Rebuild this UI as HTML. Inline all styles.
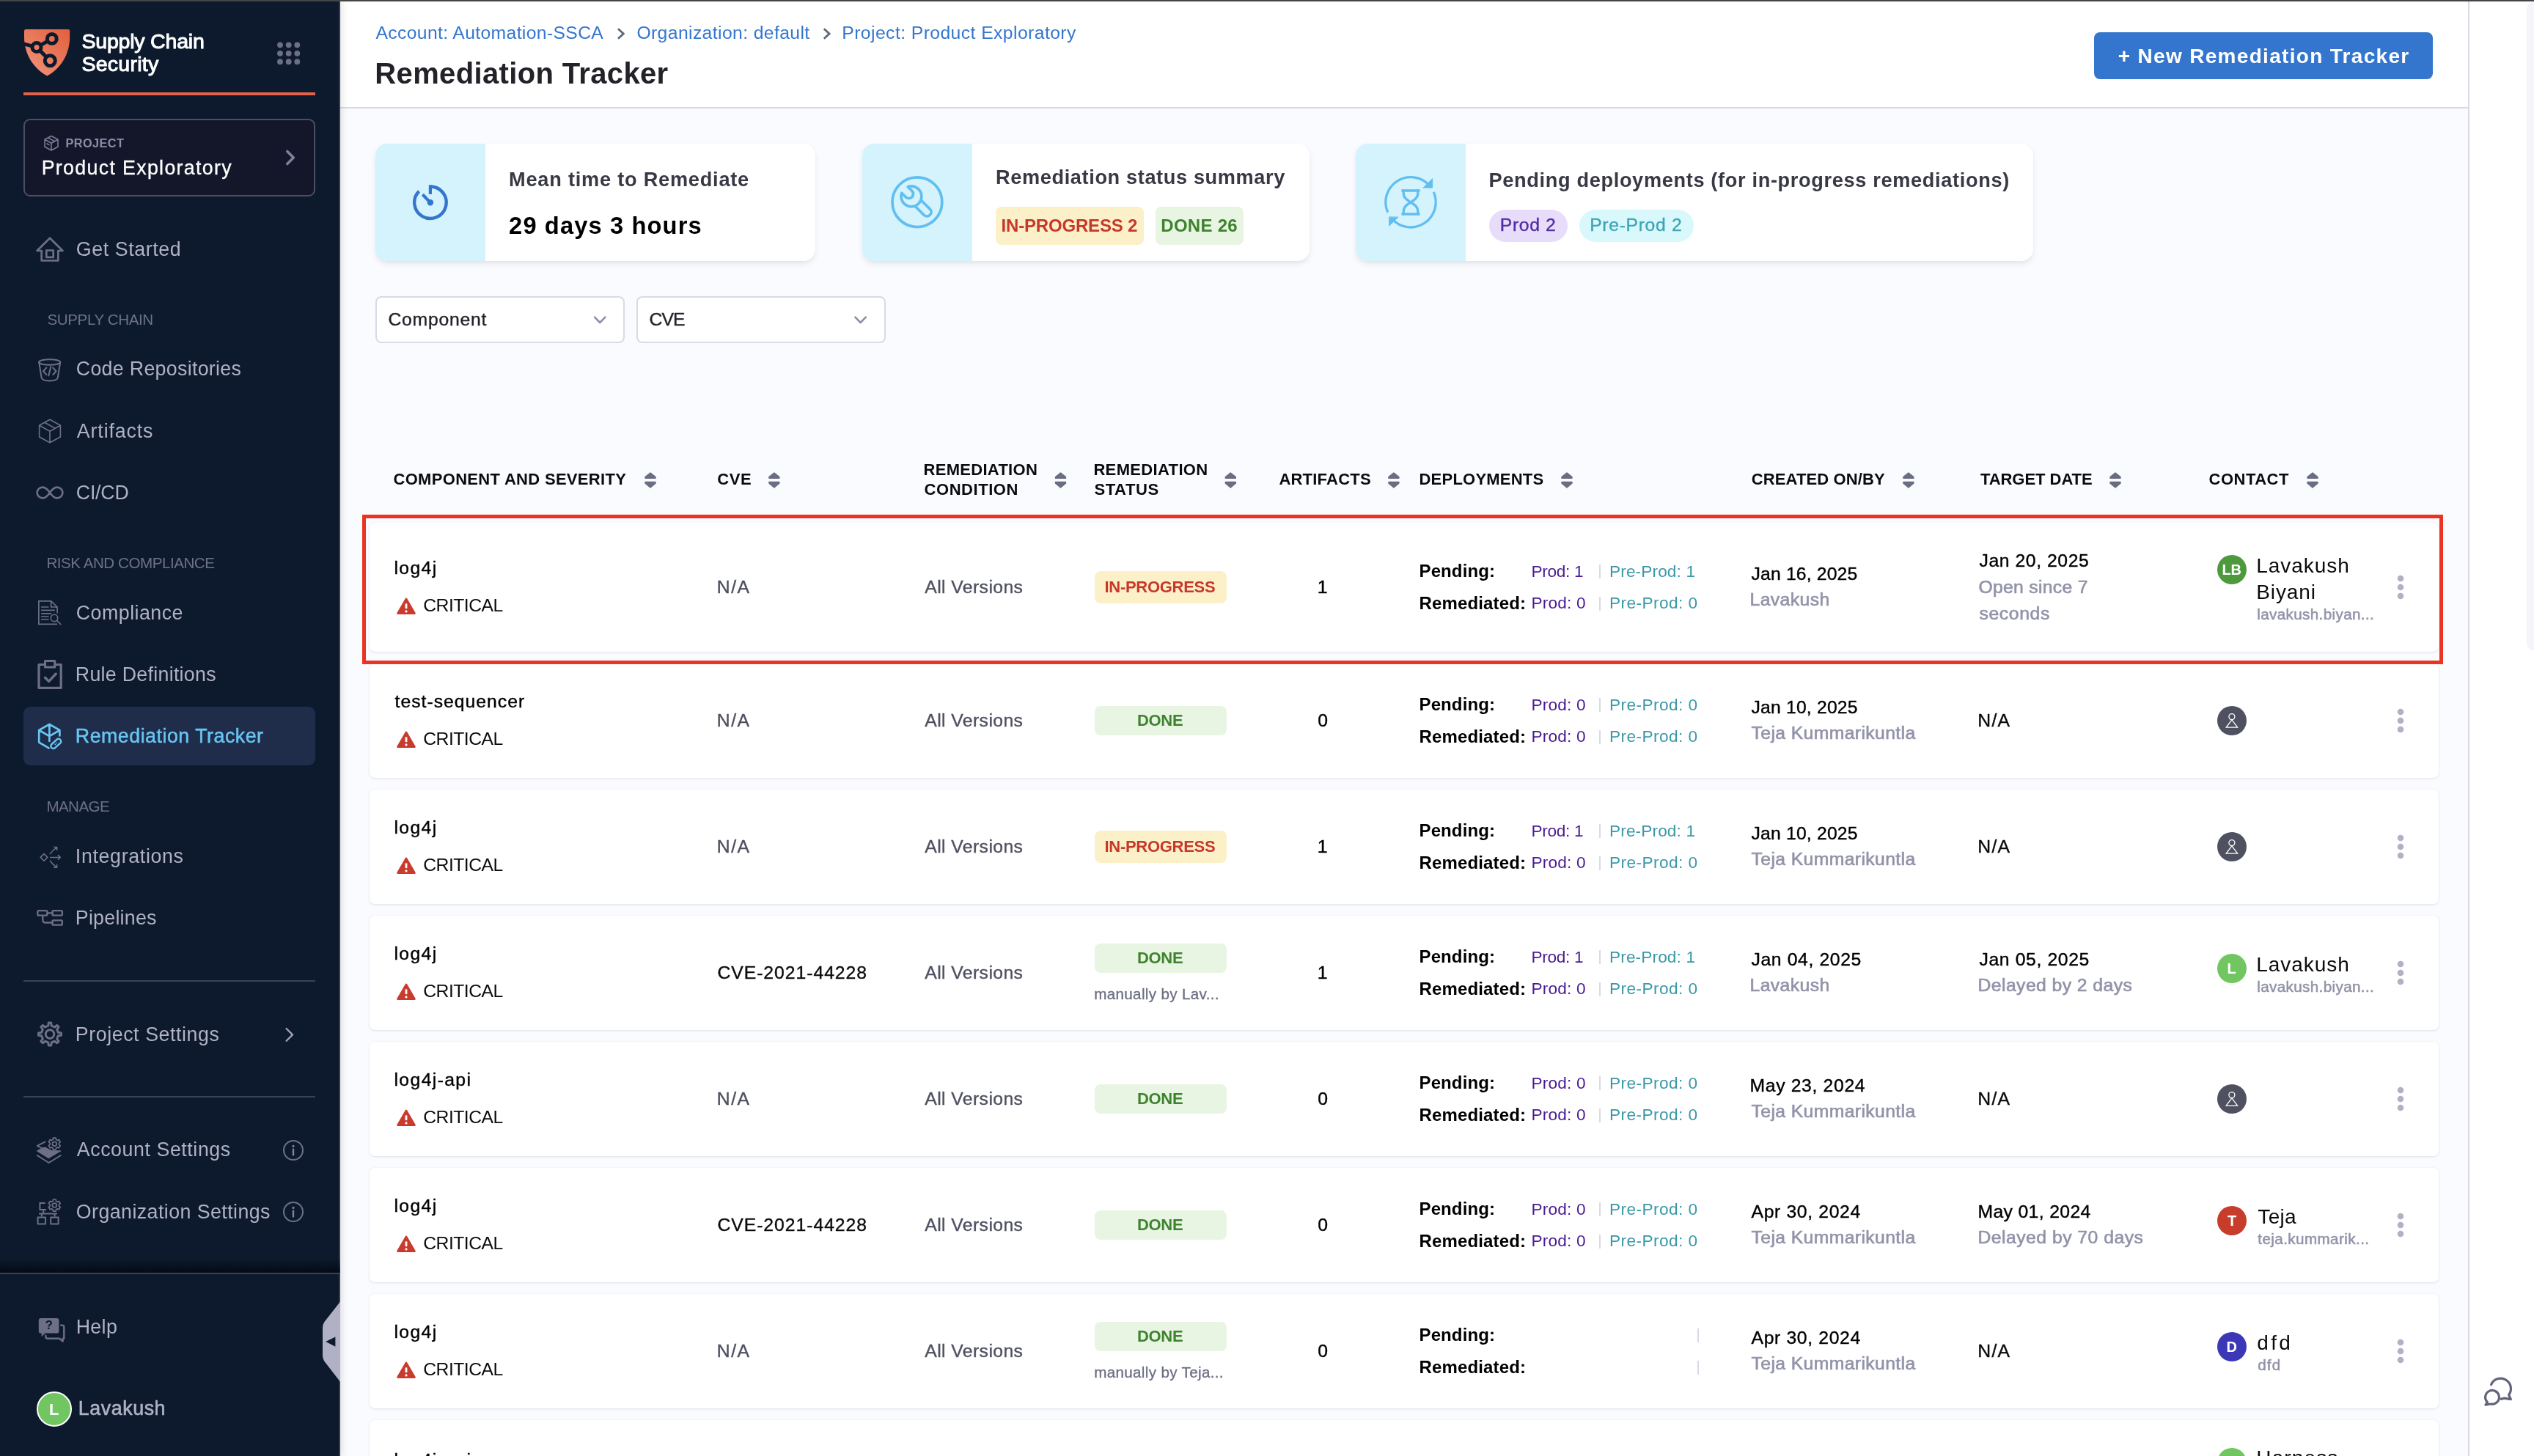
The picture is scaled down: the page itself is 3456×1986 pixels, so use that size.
<!DOCTYPE html>
<html lang="en"><head><meta charset="utf-8"><title>Remediation Tracker</title>
<style>
html,body{margin:0;padding:0;}
body{width:3456px;height:1986px;position:relative;overflow:hidden;background:#fafbfe;font-family:"Liberation Sans", sans-serif;}
#root{position:absolute;left:0;top:0;width:3456px;height:1986px;overflow:hidden;will-change:transform;}
#root div,#root svg,#root span{position:absolute;box-sizing:border-box;}
#root svg{overflow:visible;}
.t{white-space:nowrap;font-family:"Liberation Sans", sans-serif;font-kerning:normal;}
@media (max-width:1800px){body{width:1728px;height:993px;}#root{zoom:0.5;}}
</style></head><body><div id="root">
<div style="left:464px;top:0px;width:2904px;height:148px;background:#fff;border-bottom:2px solid #d9dae4;"></div>
<div style="left:3368px;top:0px;width:88px;height:1986px;background:#fff;"></div>
<div style="left:3366px;top:0px;width:2px;height:1986px;background:#d9dae4;"></div>
<div style="left:3446px;top:3px;width:20px;height:884px;background:#f4f4fa;border-radius:9px;"></div>
<div style="left:512px;top:196px;width:600px;height:160px;background:#fff;border-radius:16px;overflow:hidden;box-shadow:0 4px 8px -2px rgba(96,97,112,0.20),0 0 2px rgba(40,41,61,0.04);"><div style="left:0;top:0;width:150px;height:160px;background:#d5f3fd;"></div></div>
<div style="left:1176px;top:196px;width:610px;height:160px;background:#fff;border-radius:16px;overflow:hidden;box-shadow:0 4px 8px -2px rgba(96,97,112,0.20),0 0 2px rgba(40,41,61,0.04);"><div style="left:0;top:0;width:150px;height:160px;background:#d5f3fd;"></div></div>
<div style="left:1849px;top:196px;width:924px;height:160px;background:#fff;border-radius:16px;overflow:hidden;box-shadow:0 4px 8px -2px rgba(96,97,112,0.20),0 0 2px rgba(40,41,61,0.04);"><div style="left:0;top:0;width:150px;height:160px;background:#d5f3fd;"></div></div>
<div style="left:512px;top:404px;width:340px;height:64px;background:#fff;border:2px solid #d9dae4;border-radius:8px;"></div>
<div style="left:868px;top:404px;width:340px;height:64px;background:#fff;border:2px solid #d9dae4;border-radius:8px;"></div>
<div style="left:504px;top:713px;width:2822px;height:176px;background:#fff;border-radius:7px;box-shadow:0 1px 3px rgba(96,97,112,0.15),0 0 1.5px rgba(40,41,61,0.07);"></div>
<div style="left:504px;top:905px;width:2822px;height:156px;background:#fff;border-radius:7px;box-shadow:0 1px 3px rgba(96,97,112,0.15),0 0 1.5px rgba(40,41,61,0.07);"></div>
<div style="left:504px;top:1077px;width:2822px;height:156px;background:#fff;border-radius:7px;box-shadow:0 1px 3px rgba(96,97,112,0.15),0 0 1.5px rgba(40,41,61,0.07);"></div>
<div style="left:504px;top:1249px;width:2822px;height:156px;background:#fff;border-radius:7px;box-shadow:0 1px 3px rgba(96,97,112,0.15),0 0 1.5px rgba(40,41,61,0.07);"></div>
<div style="left:504px;top:1421px;width:2822px;height:156px;background:#fff;border-radius:7px;box-shadow:0 1px 3px rgba(96,97,112,0.15),0 0 1.5px rgba(40,41,61,0.07);"></div>
<div style="left:504px;top:1593px;width:2822px;height:156px;background:#fff;border-radius:7px;box-shadow:0 1px 3px rgba(96,97,112,0.15),0 0 1.5px rgba(40,41,61,0.07);"></div>
<div style="left:504px;top:1765px;width:2822px;height:156px;background:#fff;border-radius:7px;box-shadow:0 1px 3px rgba(96,97,112,0.15),0 0 1.5px rgba(40,41,61,0.07);"></div>
<div style="left:504px;top:1937px;width:2822px;height:176px;background:#fff;border-radius:7px;box-shadow:0 1px 3px rgba(96,97,112,0.15),0 0 1.5px rgba(40,41,61,0.07);"></div>
<div style="left:0px;top:0px;width:464px;height:1986px;background:#0d1a2e;border-right:2px solid #34364b;box-shadow:2px 0 9px rgba(20,25,45,0.13);"></div>
<div style="left:2856px;top:44px;width:462px;height:64px;background:#3476ce;border-radius:8px;"></div>
<div style="left:1358px;top:282px;width:202px;height:52px;background:#fcf0c9;border-radius:8px;"></div>
<div style="left:1576px;top:282px;width:120px;height:52px;background:#e7f5e2;border-radius:8px;"></div>
<div style="left:2031px;top:286px;width:107px;height:44px;background:#e7ddfa;border-radius:22px;"></div>
<div style="left:2154px;top:286px;width:156px;height:44px;background:#d9f8fb;border-radius:22px;"></div>
<div style="left:1493px;top:779.0px;width:180px;height:44px;background:#fcf0c9;border-radius:8px;"></div>
<div style="left:2181px;top:770.25px;width:2px;height:19px;background:#d9dae4;"></div>
<div style="left:2181px;top:813.75px;width:2px;height:19px;background:#d9dae4;"></div>
<div style="left:3024px;top:757.0px;width:40px;height:40px;background:#4e993d;border-radius:50%;"></div>
<div style="left:1493px;top:963.0px;width:180px;height:40px;background:#e7f5e2;border-radius:8px;"></div>
<div style="left:2181px;top:952.25px;width:2px;height:19px;background:#d9dae4;"></div>
<div style="left:2181px;top:995.75px;width:2px;height:19px;background:#d9dae4;"></div>
<div style="left:1493px;top:1133.0px;width:180px;height:44px;background:#fcf0c9;border-radius:8px;"></div>
<div style="left:2181px;top:1124.25px;width:2px;height:19px;background:#d9dae4;"></div>
<div style="left:2181px;top:1167.75px;width:2px;height:19px;background:#d9dae4;"></div>
<div style="left:1493px;top:1287.0px;width:180px;height:40px;background:#e7f5e2;border-radius:8px;"></div>
<div style="left:2181px;top:1296.25px;width:2px;height:19px;background:#d9dae4;"></div>
<div style="left:2181px;top:1339.75px;width:2px;height:19px;background:#d9dae4;"></div>
<div style="left:3024px;top:1301.0px;width:40px;height:40px;background:#71c661;border-radius:50%;"></div>
<div style="left:1493px;top:1479.0px;width:180px;height:40px;background:#e7f5e2;border-radius:8px;"></div>
<div style="left:2181px;top:1468.25px;width:2px;height:19px;background:#d9dae4;"></div>
<div style="left:2181px;top:1511.75px;width:2px;height:19px;background:#d9dae4;"></div>
<div style="left:1493px;top:1651.0px;width:180px;height:40px;background:#e7f5e2;border-radius:8px;"></div>
<div style="left:2181px;top:1640.25px;width:2px;height:19px;background:#d9dae4;"></div>
<div style="left:2181px;top:1683.75px;width:2px;height:19px;background:#d9dae4;"></div>
<div style="left:3024px;top:1645.0px;width:40px;height:40px;background:#c83c2c;border-radius:50%;"></div>
<div style="left:1493px;top:1803.0px;width:180px;height:40px;background:#e7f5e2;border-radius:8px;"></div>
<div style="left:2314.5px;top:1812.25px;width:2px;height:19px;background:#d9dae4;"></div>
<div style="left:2314.5px;top:1855.75px;width:2px;height:19px;background:#d9dae4;"></div>
<div style="left:3024px;top:1817.0px;width:40px;height:40px;background:#3b37b6;border-radius:50%;"></div>
<div style="left:3024px;top:1975px;width:40px;height:40px;background:#71c661;border-radius:50%;"></div>
<div style="left:32px;top:126px;width:398px;height:4px;background:#e5624a;"></div>
<div style="left:32px;top:162px;width:398px;height:106px;background:#14172a;border:2px solid #4b4e66;border-radius:9px;"></div>
<div style="left:32px;top:964px;width:398px;height:80px;background:#1f2c4a;border-radius:9px;"></div>
<div style="left:32px;top:1337px;width:398px;height:2px;background:#3b3f55;"></div>
<div style="left:32px;top:1495px;width:398px;height:2px;background:#3b3f55;"></div>
<div style="left:0px;top:1716px;width:464px;height:20px;background:linear-gradient(to bottom,rgba(3,5,12,0) 0%,rgba(3,5,12,0.75) 100%);"></div>
<div style="left:0px;top:1736px;width:464px;height:2px;background:#3d4157;"></div>
<div style="left:50px;top:1898px;width:48px;height:48px;background:#71c661;border:2.5px solid #fff;border-radius:50%;"></div>
<span class="t" style="left:111.50px;top:38.50px;font-size:28.56px;line-height:34px;font-weight:400;color:#fff;letter-spacing:-0.230px;-webkit-text-stroke:1.0px #fff;">Supply Chain</span>
<span class="t" style="left:111.50px;top:70.20px;font-size:28.56px;line-height:34px;font-weight:400;color:#fff;letter-spacing:0.222px;-webkit-text-stroke:1.0px #fff;">Security</span>
<span class="t" style="left:89.40px;top:185.35px;font-size:16.32px;line-height:20px;font-weight:700;color:#8c8ea8;letter-spacing:0.420px;">PROJECT</span>
<span class="t" style="left:56.70px;top:212.72px;font-size:26.78px;line-height:32px;font-weight:400;color:#fff;letter-spacing:1.330px;-webkit-text-stroke:0.3px #fff;">Product Exploratory</span>
<span class="t" style="left:103.80px;top:323.52px;font-size:26.78px;line-height:32px;font-weight:400;color:#b0b1c4;letter-spacing:0.601px;">Get Started</span>
<span class="t" style="left:103.80px;top:487.42px;font-size:26.78px;line-height:32px;font-weight:400;color:#b0b1c4;letter-spacing:0.306px;">Code Repositories</span>
<span class="t" style="left:104.80px;top:571.52px;font-size:26.78px;line-height:32px;font-weight:400;color:#b0b1c4;letter-spacing:0.876px;">Artifacts</span>
<span class="t" style="left:103.80px;top:655.52px;font-size:26.78px;line-height:32px;font-weight:400;color:#b0b1c4;letter-spacing:-0.233px;">CI/CD</span>
<span class="t" style="left:103.80px;top:819.52px;font-size:26.78px;line-height:32px;font-weight:400;color:#b0b1c4;letter-spacing:0.484px;">Compliance</span>
<span class="t" style="left:102.80px;top:903.52px;font-size:26.78px;line-height:32px;font-weight:400;color:#b0b1c4;letter-spacing:0.289px;">Rule Definitions</span>
<span class="t" style="left:102.80px;top:987.72px;font-size:26.78px;line-height:32px;font-weight:400;color:#68c4f1;letter-spacing:0.516px;-webkit-text-stroke:0.5px #68c4f1;">Remediation Tracker</span>
<span class="t" style="left:102.80px;top:1152.12px;font-size:26.78px;line-height:32px;font-weight:400;color:#b0b1c4;letter-spacing:0.665px;">Integrations</span>
<span class="t" style="left:102.80px;top:1236.32px;font-size:26.78px;line-height:32px;font-weight:400;color:#b0b1c4;letter-spacing:0.258px;">Pipelines</span>
<span class="t" style="left:102.80px;top:1394.72px;font-size:26.78px;line-height:32px;font-weight:400;color:#b0b1c4;letter-spacing:0.575px;">Project Settings</span>
<span class="t" style="left:104.80px;top:1552.42px;font-size:26.78px;line-height:32px;font-weight:400;color:#b0b1c4;letter-spacing:0.568px;">Account Settings</span>
<span class="t" style="left:103.80px;top:1636.62px;font-size:26.78px;line-height:32px;font-weight:400;color:#b0b1c4;letter-spacing:0.439px;">Organization Settings</span>
<span class="t" style="left:103.70px;top:1793.82px;font-size:26.78px;line-height:32px;font-weight:400;color:#b0b1c4;letter-spacing:0.346px;">Help</span>
<span class="t" style="left:106.80px;top:1905.12px;font-size:26.78px;line-height:32px;font-weight:400;color:#b0b1c4;letter-spacing:0.587px;-webkit-text-stroke:0.6px #b0b1c4;">Lavakush</span>
<span class="t" style="left:64.40px;top:423.36px;font-size:20.6px;line-height:25px;font-weight:400;color:#6d7089;letter-spacing:-0.397px;">SUPPLY CHAIN</span>
<span class="t" style="left:63.40px;top:755.36px;font-size:20.6px;line-height:25px;font-weight:400;color:#6d7089;letter-spacing:-0.468px;">RISK AND COMPLIANCE</span>
<span class="t" style="left:63.40px;top:1087.36px;font-size:20.6px;line-height:25px;font-weight:400;color:#6d7089;letter-spacing:-0.583px;">MANAGE</span>
<span class="t" style="left:512.50px;top:30.23px;font-size:24.72px;line-height:30px;font-weight:400;color:#3476ce;letter-spacing:0.350px;">Account: Automation-SSCA</span>
<span class="t" style="left:868.40px;top:30.23px;font-size:24.72px;line-height:30px;font-weight:400;color:#3476ce;letter-spacing:0.383px;">Organization: default</span>
<span class="t" style="left:1148.30px;top:30.23px;font-size:24.72px;line-height:30px;font-weight:400;color:#3476ce;letter-spacing:0.419px;">Project: Product Exploratory</span>
<span class="t" style="left:511.30px;top:76.34px;font-size:40.0px;line-height:48px;font-weight:700;color:#222229;letter-spacing:0.354px;">Remediation Tracker</span>
<span class="t" style="left:2888.80px;top:59.70px;font-size:28.0px;line-height:34px;font-weight:700;color:#fff;letter-spacing:1.311px;">+ New Remediation Tracker</span>
<span class="t" style="left:694.10px;top:228.19px;font-size:27.17px;line-height:33px;font-weight:700;color:#383945;letter-spacing:0.773px;">Mean time to Remediate</span>
<span class="t" style="left:694.10px;top:288.19px;font-size:32.64px;line-height:39px;font-weight:700;color:#000;letter-spacing:1.138px;">29 days 3 hours</span>
<span class="t" style="left:1358.00px;top:225.39px;font-size:27.17px;line-height:33px;font-weight:700;color:#383945;letter-spacing:0.624px;">Remediation status summary</span>
<span class="t" style="left:1365.60px;top:293.18px;font-size:24.0px;line-height:29px;font-weight:700;color:#c5382a;letter-spacing:-0.191px;">IN-PROGRESS 2</span>
<span class="t" style="left:1583.30px;top:293.18px;font-size:24.0px;line-height:29px;font-weight:700;color:#3f822f;letter-spacing:0.274px;">DONE 26</span>
<span class="t" style="left:2030.50px;top:229.49px;font-size:27.17px;line-height:33px;font-weight:700;color:#383945;letter-spacing:0.658px;">Pending deployments (for in-progress remediations)</span>
<span class="t" style="left:2045.80px;top:292.33px;font-size:24.72px;line-height:30px;font-weight:400;color:#532da4;letter-spacing:0.624px;-webkit-text-stroke:0.4px #532da4;">Prod 2</span>
<span class="t" style="left:2168.20px;top:292.33px;font-size:24.72px;line-height:30px;font-weight:400;color:#3fa5b5;letter-spacing:0.669px;-webkit-text-stroke:0.4px #3fa5b5;">Pre-Prod 2</span>
<span class="t" style="left:529.50px;top:420.93px;font-size:24.72px;line-height:30px;font-weight:400;color:#222229;letter-spacing:0.759px;-webkit-text-stroke:0.4px #222229;">Component</span>
<span class="t" style="left:885.50px;top:420.93px;font-size:24.72px;line-height:30px;font-weight:400;color:#222229;letter-spacing:-0.969px;-webkit-text-stroke:0.4px #222229;">CVE</span>
<span class="t" style="left:536.50px;top:641.48px;font-size:22.0px;line-height:26px;font-weight:700;color:#0b0b0d;letter-spacing:0.309px;">COMPONENT AND SEVERITY</span>
<span class="t" style="left:978.30px;top:641.48px;font-size:22.0px;line-height:26px;font-weight:700;color:#0b0b0d;letter-spacing:0.519px;">CVE</span>
<span class="t" style="left:1259.60px;top:628.28px;font-size:22.0px;line-height:26px;font-weight:700;color:#0b0b0d;letter-spacing:0.282px;">REMEDIATION</span>
<span class="t" style="left:1260.60px;top:654.98px;font-size:22.0px;line-height:26px;font-weight:700;color:#0b0b0d;letter-spacing:0.544px;">CONDITION</span>
<span class="t" style="left:1491.40px;top:628.28px;font-size:22.0px;line-height:26px;font-weight:700;color:#0b0b0d;letter-spacing:0.342px;">REMEDIATION</span>
<span class="t" style="left:1492.40px;top:654.98px;font-size:22.0px;line-height:26px;font-weight:700;color:#0b0b0d;letter-spacing:0.588px;">STATUS</span>
<span class="t" style="left:1744.40px;top:641.48px;font-size:22.0px;line-height:26px;font-weight:700;color:#0b0b0d;letter-spacing:0.217px;">ARTIFACTS</span>
<span class="t" style="left:1935.50px;top:641.48px;font-size:22.0px;line-height:26px;font-weight:700;color:#0b0b0d;letter-spacing:0.221px;">DEPLOYMENTS</span>
<span class="t" style="left:2388.80px;top:641.48px;font-size:22.0px;line-height:26px;font-weight:700;color:#0b0b0d;letter-spacing:0.107px;">CREATED ON/BY</span>
<span class="t" style="left:2700.90px;top:641.48px;font-size:22.0px;line-height:26px;font-weight:700;color:#0b0b0d;letter-spacing:-0.040px;">TARGET DATE</span>
<span class="t" style="left:3012.50px;top:641.48px;font-size:22.0px;line-height:26px;font-weight:700;color:#0b0b0d;letter-spacing:0.505px;">CONTACT</span>
<span class="t" style="left:537.50px;top:759.83px;font-size:24.72px;line-height:30px;font-weight:400;color:#000;letter-spacing:1.367px;-webkit-text-stroke:0.4px #000;">log4j</span>
<span class="t" style="left:577.30px;top:811.43px;font-size:24.72px;line-height:30px;font-weight:400;color:#0b0b0d;letter-spacing:-0.525px;">CRITICAL</span>
<span class="t" style="left:977.80px;top:786.13px;font-size:24.72px;line-height:30px;font-weight:400;color:#4f5161;letter-spacing:1.541px;-webkit-text-stroke:0.4px #4f5161;">N/A</span>
<span class="t" style="left:1261.30px;top:786.13px;font-size:24.72px;line-height:30px;font-weight:400;color:#4f5161;letter-spacing:0.410px;-webkit-text-stroke:0.4px #4f5161;">All Versions</span>
<span class="t" style="left:1506.50px;top:788.38px;font-size:22.0px;line-height:26px;font-weight:700;color:#c5382a;letter-spacing:-0.285px;">IN-PROGRESS</span>
<span class="t" style="left:1796.70px;top:785.93px;font-size:24.72px;line-height:30px;font-weight:400;color:#000;-webkit-text-stroke:0.4px #000;">1</span>
<span class="t" style="left:1935.50px;top:764.43px;font-size:24.0px;line-height:29px;font-weight:700;color:#000;letter-spacing:0.119px;">Pending:</span>
<span class="t" style="left:1935.50px;top:807.93px;font-size:24.0px;line-height:29px;font-weight:700;color:#000;letter-spacing:0.146px;">Remediated:</span>
<span class="t" style="left:2088.50px;top:765.90px;font-size:22.66px;line-height:27px;font-weight:400;color:#4a1a93;letter-spacing:-0.324px;">Prod: 1</span>
<span class="t" style="left:2195.00px;top:765.90px;font-size:22.66px;line-height:27px;font-weight:400;color:#3b98a8;letter-spacing:0.115px;">Pre-Prod: 1</span>
<span class="t" style="left:2088.50px;top:809.40px;font-size:22.66px;line-height:27px;font-weight:400;color:#4a1a93;letter-spacing:0.176px;">Prod: 0</span>
<span class="t" style="left:2195.00px;top:809.40px;font-size:22.66px;line-height:27px;font-weight:400;color:#3b98a8;letter-spacing:0.415px;">Pre-Prod: 0</span>
<span class="t" style="left:2388.50px;top:767.58px;font-size:24.72px;line-height:30px;font-weight:400;color:#000;letter-spacing:0.164px;-webkit-text-stroke:0.4px #000;">Jan 16, 2025</span>
<span class="t" style="left:2386.50px;top:803.28px;font-size:24.72px;line-height:30px;font-weight:400;color:#9293a9;letter-spacing:0.419px;-webkit-text-stroke:0.65px #9293a9;">Lavakush</span>
<span class="t" style="left:2699.50px;top:750.08px;font-size:24.72px;line-height:30px;font-weight:400;color:#000;letter-spacing:0.573px;-webkit-text-stroke:0.4px #000;">Jan 20, 2025</span>
<span class="t" style="left:2698.50px;top:785.88px;font-size:24.72px;line-height:30px;font-weight:400;color:#9293a9;letter-spacing:0.299px;-webkit-text-stroke:0.65px #9293a9;">Open since 7</span>
<span class="t" style="left:2699.50px;top:821.68px;font-size:24.72px;line-height:30px;font-weight:400;color:#9293a9;letter-spacing:0.632px;-webkit-text-stroke:0.65px #9293a9;">seconds</span>
<span class="t" style="left:3077.30px;top:754.50px;font-size:28.0px;line-height:34px;font-weight:400;color:#0b0b0d;letter-spacing:0.959px;">Lavakush</span>
<span class="t" style="left:3077.30px;top:790.50px;font-size:28.0px;line-height:34px;font-weight:400;color:#0b0b0d;letter-spacing:0.872px;">Biyani</span>
<span class="t" style="left:3078.30px;top:824.76px;font-size:20.6px;line-height:25px;font-weight:400;color:#9293a9;letter-spacing:0.377px;-webkit-text-stroke:0.55px #9293a9;">lavakush.biyan...</span>
<span class="t" style="left:538.50px;top:941.83px;font-size:24.72px;line-height:30px;font-weight:400;color:#000;letter-spacing:1.017px;-webkit-text-stroke:0.4px #000;">test-sequencer</span>
<span class="t" style="left:577.30px;top:993.43px;font-size:24.72px;line-height:30px;font-weight:400;color:#0b0b0d;letter-spacing:-0.525px;">CRITICAL</span>
<span class="t" style="left:977.80px;top:968.13px;font-size:24.72px;line-height:30px;font-weight:400;color:#4f5161;letter-spacing:1.541px;-webkit-text-stroke:0.4px #4f5161;">N/A</span>
<span class="t" style="left:1261.30px;top:968.13px;font-size:24.72px;line-height:30px;font-weight:400;color:#4f5161;letter-spacing:0.410px;-webkit-text-stroke:0.4px #4f5161;">All Versions</span>
<span class="t" style="left:1550.90px;top:970.18px;font-size:22.0px;line-height:26px;font-weight:700;color:#3f822f;letter-spacing:-0.296px;">DONE</span>
<span class="t" style="left:1797.20px;top:967.93px;font-size:24.72px;line-height:30px;font-weight:400;color:#000;-webkit-text-stroke:0.4px #000;">0</span>
<span class="t" style="left:1935.50px;top:946.43px;font-size:24.0px;line-height:29px;font-weight:700;color:#000;letter-spacing:0.119px;">Pending:</span>
<span class="t" style="left:1935.50px;top:989.93px;font-size:24.0px;line-height:29px;font-weight:700;color:#000;letter-spacing:0.146px;">Remediated:</span>
<span class="t" style="left:2088.50px;top:947.90px;font-size:22.66px;line-height:27px;font-weight:400;color:#4a1a93;letter-spacing:0.176px;">Prod: 0</span>
<span class="t" style="left:2195.00px;top:947.90px;font-size:22.66px;line-height:27px;font-weight:400;color:#3b98a8;letter-spacing:0.415px;">Pre-Prod: 0</span>
<span class="t" style="left:2088.50px;top:991.40px;font-size:22.66px;line-height:27px;font-weight:400;color:#4a1a93;letter-spacing:0.176px;">Prod: 0</span>
<span class="t" style="left:2195.00px;top:991.40px;font-size:22.66px;line-height:27px;font-weight:400;color:#3b98a8;letter-spacing:0.415px;">Pre-Prod: 0</span>
<span class="t" style="left:2388.50px;top:949.58px;font-size:24.72px;line-height:30px;font-weight:400;color:#000;letter-spacing:0.191px;-webkit-text-stroke:0.4px #000;">Jan 10, 2025</span>
<span class="t" style="left:2388.50px;top:985.28px;font-size:24.72px;line-height:30px;font-weight:400;color:#9293a9;letter-spacing:0.393px;-webkit-text-stroke:0.65px #9293a9;">Teja Kummarikuntla</span>
<span class="t" style="left:2697.20px;top:967.93px;font-size:24.72px;line-height:30px;font-weight:400;color:#0b0b0d;letter-spacing:1.341px;-webkit-text-stroke:0.4px #0b0b0d;">N/A</span>
<span class="t" style="left:537.50px;top:1113.83px;font-size:24.72px;line-height:30px;font-weight:400;color:#000;letter-spacing:1.367px;-webkit-text-stroke:0.4px #000;">log4j</span>
<span class="t" style="left:577.30px;top:1165.43px;font-size:24.72px;line-height:30px;font-weight:400;color:#0b0b0d;letter-spacing:-0.525px;">CRITICAL</span>
<span class="t" style="left:977.80px;top:1140.13px;font-size:24.72px;line-height:30px;font-weight:400;color:#4f5161;letter-spacing:1.541px;-webkit-text-stroke:0.4px #4f5161;">N/A</span>
<span class="t" style="left:1261.30px;top:1140.13px;font-size:24.72px;line-height:30px;font-weight:400;color:#4f5161;letter-spacing:0.410px;-webkit-text-stroke:0.4px #4f5161;">All Versions</span>
<span class="t" style="left:1506.50px;top:1142.38px;font-size:22.0px;line-height:26px;font-weight:700;color:#c5382a;letter-spacing:-0.285px;">IN-PROGRESS</span>
<span class="t" style="left:1796.70px;top:1139.93px;font-size:24.72px;line-height:30px;font-weight:400;color:#000;-webkit-text-stroke:0.4px #000;">1</span>
<span class="t" style="left:1935.50px;top:1118.43px;font-size:24.0px;line-height:29px;font-weight:700;color:#000;letter-spacing:0.119px;">Pending:</span>
<span class="t" style="left:1935.50px;top:1161.93px;font-size:24.0px;line-height:29px;font-weight:700;color:#000;letter-spacing:0.146px;">Remediated:</span>
<span class="t" style="left:2088.50px;top:1119.90px;font-size:22.66px;line-height:27px;font-weight:400;color:#4a1a93;letter-spacing:-0.324px;">Prod: 1</span>
<span class="t" style="left:2195.00px;top:1119.90px;font-size:22.66px;line-height:27px;font-weight:400;color:#3b98a8;letter-spacing:0.115px;">Pre-Prod: 1</span>
<span class="t" style="left:2088.50px;top:1163.40px;font-size:22.66px;line-height:27px;font-weight:400;color:#4a1a93;letter-spacing:0.176px;">Prod: 0</span>
<span class="t" style="left:2195.00px;top:1163.40px;font-size:22.66px;line-height:27px;font-weight:400;color:#3b98a8;letter-spacing:0.415px;">Pre-Prod: 0</span>
<span class="t" style="left:2388.50px;top:1121.58px;font-size:24.72px;line-height:30px;font-weight:400;color:#000;letter-spacing:0.191px;-webkit-text-stroke:0.4px #000;">Jan 10, 2025</span>
<span class="t" style="left:2388.50px;top:1157.28px;font-size:24.72px;line-height:30px;font-weight:400;color:#9293a9;letter-spacing:0.393px;-webkit-text-stroke:0.65px #9293a9;">Teja Kummarikuntla</span>
<span class="t" style="left:2697.20px;top:1139.93px;font-size:24.72px;line-height:30px;font-weight:400;color:#0b0b0d;letter-spacing:1.341px;-webkit-text-stroke:0.4px #0b0b0d;">N/A</span>
<span class="t" style="left:537.50px;top:1285.83px;font-size:24.72px;line-height:30px;font-weight:400;color:#000;letter-spacing:1.367px;-webkit-text-stroke:0.4px #000;">log4j</span>
<span class="t" style="left:577.30px;top:1337.43px;font-size:24.72px;line-height:30px;font-weight:400;color:#0b0b0d;letter-spacing:-0.525px;">CRITICAL</span>
<span class="t" style="left:978.40px;top:1312.13px;font-size:24.72px;line-height:30px;font-weight:400;color:#0b0b0d;letter-spacing:0.972px;-webkit-text-stroke:0.4px #0b0b0d;">CVE-2021-44228</span>
<span class="t" style="left:1261.30px;top:1312.13px;font-size:24.72px;line-height:30px;font-weight:400;color:#4f5161;letter-spacing:0.410px;-webkit-text-stroke:0.4px #4f5161;">All Versions</span>
<span class="t" style="left:1550.90px;top:1294.18px;font-size:22.0px;line-height:26px;font-weight:700;color:#3f822f;letter-spacing:-0.296px;">DONE</span>
<span class="t" style="left:1492.20px;top:1342.66px;font-size:20.6px;line-height:25px;font-weight:400;color:#6b6d83;letter-spacing:0.346px;-webkit-text-stroke:0.3px #6b6d83;">manually by Lav...</span>
<span class="t" style="left:1796.70px;top:1311.93px;font-size:24.72px;line-height:30px;font-weight:400;color:#000;-webkit-text-stroke:0.4px #000;">1</span>
<span class="t" style="left:1935.50px;top:1290.43px;font-size:24.0px;line-height:29px;font-weight:700;color:#000;letter-spacing:0.119px;">Pending:</span>
<span class="t" style="left:1935.50px;top:1333.93px;font-size:24.0px;line-height:29px;font-weight:700;color:#000;letter-spacing:0.146px;">Remediated:</span>
<span class="t" style="left:2088.50px;top:1291.90px;font-size:22.66px;line-height:27px;font-weight:400;color:#4a1a93;letter-spacing:-0.324px;">Prod: 1</span>
<span class="t" style="left:2195.00px;top:1291.90px;font-size:22.66px;line-height:27px;font-weight:400;color:#3b98a8;letter-spacing:0.115px;">Pre-Prod: 1</span>
<span class="t" style="left:2088.50px;top:1335.40px;font-size:22.66px;line-height:27px;font-weight:400;color:#4a1a93;letter-spacing:0.176px;">Prod: 0</span>
<span class="t" style="left:2195.00px;top:1335.40px;font-size:22.66px;line-height:27px;font-weight:400;color:#3b98a8;letter-spacing:0.415px;">Pre-Prod: 0</span>
<span class="t" style="left:2388.50px;top:1293.58px;font-size:24.72px;line-height:30px;font-weight:400;color:#000;letter-spacing:0.619px;-webkit-text-stroke:0.4px #000;">Jan 04, 2025</span>
<span class="t" style="left:2386.50px;top:1329.28px;font-size:24.72px;line-height:30px;font-weight:400;color:#9293a9;letter-spacing:0.419px;-webkit-text-stroke:0.65px #9293a9;">Lavakush</span>
<span class="t" style="left:2699.50px;top:1293.58px;font-size:24.72px;line-height:30px;font-weight:400;color:#000;letter-spacing:0.619px;-webkit-text-stroke:0.4px #000;">Jan 05, 2025</span>
<span class="t" style="left:2697.50px;top:1329.38px;font-size:24.72px;line-height:30px;font-weight:400;color:#9293a9;letter-spacing:0.437px;-webkit-text-stroke:0.65px #9293a9;">Delayed by 2 days</span>
<span class="t" style="left:3077.30px;top:1298.50px;font-size:28.0px;line-height:34px;font-weight:400;color:#0b0b0d;letter-spacing:0.959px;">Lavakush</span>
<span class="t" style="left:3078.30px;top:1332.76px;font-size:20.6px;line-height:25px;font-weight:400;color:#9293a9;letter-spacing:0.377px;-webkit-text-stroke:0.55px #9293a9;">lavakush.biyan...</span>
<span class="t" style="left:537.50px;top:1457.83px;font-size:24.72px;line-height:30px;font-weight:400;color:#000;letter-spacing:1.381px;-webkit-text-stroke:0.4px #000;">log4j-api</span>
<span class="t" style="left:577.30px;top:1509.43px;font-size:24.72px;line-height:30px;font-weight:400;color:#0b0b0d;letter-spacing:-0.525px;">CRITICAL</span>
<span class="t" style="left:977.80px;top:1484.13px;font-size:24.72px;line-height:30px;font-weight:400;color:#4f5161;letter-spacing:1.541px;-webkit-text-stroke:0.4px #4f5161;">N/A</span>
<span class="t" style="left:1261.30px;top:1484.13px;font-size:24.72px;line-height:30px;font-weight:400;color:#4f5161;letter-spacing:0.410px;-webkit-text-stroke:0.4px #4f5161;">All Versions</span>
<span class="t" style="left:1550.90px;top:1486.18px;font-size:22.0px;line-height:26px;font-weight:700;color:#3f822f;letter-spacing:-0.296px;">DONE</span>
<span class="t" style="left:1797.20px;top:1483.93px;font-size:24.72px;line-height:30px;font-weight:400;color:#000;-webkit-text-stroke:0.4px #000;">0</span>
<span class="t" style="left:1935.50px;top:1462.43px;font-size:24.0px;line-height:29px;font-weight:700;color:#000;letter-spacing:0.119px;">Pending:</span>
<span class="t" style="left:1935.50px;top:1505.93px;font-size:24.0px;line-height:29px;font-weight:700;color:#000;letter-spacing:0.146px;">Remediated:</span>
<span class="t" style="left:2088.50px;top:1463.90px;font-size:22.66px;line-height:27px;font-weight:400;color:#4a1a93;letter-spacing:0.176px;">Prod: 0</span>
<span class="t" style="left:2195.00px;top:1463.90px;font-size:22.66px;line-height:27px;font-weight:400;color:#3b98a8;letter-spacing:0.415px;">Pre-Prod: 0</span>
<span class="t" style="left:2088.50px;top:1507.40px;font-size:22.66px;line-height:27px;font-weight:400;color:#4a1a93;letter-spacing:0.176px;">Prod: 0</span>
<span class="t" style="left:2195.00px;top:1507.40px;font-size:22.66px;line-height:27px;font-weight:400;color:#3b98a8;letter-spacing:0.415px;">Pre-Prod: 0</span>
<span class="t" style="left:2386.50px;top:1465.58px;font-size:24.72px;line-height:30px;font-weight:400;color:#000;letter-spacing:0.660px;-webkit-text-stroke:0.4px #000;">May 23, 2024</span>
<span class="t" style="left:2388.50px;top:1501.28px;font-size:24.72px;line-height:30px;font-weight:400;color:#9293a9;letter-spacing:0.393px;-webkit-text-stroke:0.65px #9293a9;">Teja Kummarikuntla</span>
<span class="t" style="left:2697.20px;top:1483.93px;font-size:24.72px;line-height:30px;font-weight:400;color:#0b0b0d;letter-spacing:1.341px;-webkit-text-stroke:0.4px #0b0b0d;">N/A</span>
<span class="t" style="left:537.50px;top:1629.83px;font-size:24.72px;line-height:30px;font-weight:400;color:#000;letter-spacing:1.367px;-webkit-text-stroke:0.4px #000;">log4j</span>
<span class="t" style="left:577.30px;top:1681.43px;font-size:24.72px;line-height:30px;font-weight:400;color:#0b0b0d;letter-spacing:-0.525px;">CRITICAL</span>
<span class="t" style="left:978.40px;top:1656.13px;font-size:24.72px;line-height:30px;font-weight:400;color:#0b0b0d;letter-spacing:0.972px;-webkit-text-stroke:0.4px #0b0b0d;">CVE-2021-44228</span>
<span class="t" style="left:1261.30px;top:1656.13px;font-size:24.72px;line-height:30px;font-weight:400;color:#4f5161;letter-spacing:0.410px;-webkit-text-stroke:0.4px #4f5161;">All Versions</span>
<span class="t" style="left:1550.90px;top:1658.18px;font-size:22.0px;line-height:26px;font-weight:700;color:#3f822f;letter-spacing:-0.296px;">DONE</span>
<span class="t" style="left:1797.20px;top:1655.93px;font-size:24.72px;line-height:30px;font-weight:400;color:#000;-webkit-text-stroke:0.4px #000;">0</span>
<span class="t" style="left:1935.50px;top:1634.43px;font-size:24.0px;line-height:29px;font-weight:700;color:#000;letter-spacing:0.119px;">Pending:</span>
<span class="t" style="left:1935.50px;top:1677.93px;font-size:24.0px;line-height:29px;font-weight:700;color:#000;letter-spacing:0.146px;">Remediated:</span>
<span class="t" style="left:2088.50px;top:1635.90px;font-size:22.66px;line-height:27px;font-weight:400;color:#4a1a93;letter-spacing:0.176px;">Prod: 0</span>
<span class="t" style="left:2195.00px;top:1635.90px;font-size:22.66px;line-height:27px;font-weight:400;color:#3b98a8;letter-spacing:0.415px;">Pre-Prod: 0</span>
<span class="t" style="left:2088.50px;top:1679.40px;font-size:22.66px;line-height:27px;font-weight:400;color:#4a1a93;letter-spacing:0.176px;">Prod: 0</span>
<span class="t" style="left:2195.00px;top:1679.40px;font-size:22.66px;line-height:27px;font-weight:400;color:#3b98a8;letter-spacing:0.415px;">Pre-Prod: 0</span>
<span class="t" style="left:2388.50px;top:1637.58px;font-size:24.72px;line-height:30px;font-weight:400;color:#000;letter-spacing:0.654px;-webkit-text-stroke:0.4px #000;">Apr 30, 2024</span>
<span class="t" style="left:2388.50px;top:1673.28px;font-size:24.72px;line-height:30px;font-weight:400;color:#9293a9;letter-spacing:0.393px;-webkit-text-stroke:0.65px #9293a9;">Teja Kummarikuntla</span>
<span class="t" style="left:2697.50px;top:1637.58px;font-size:24.72px;line-height:30px;font-weight:400;color:#000;letter-spacing:0.360px;-webkit-text-stroke:0.4px #000;">May 01, 2024</span>
<span class="t" style="left:2697.50px;top:1673.38px;font-size:24.72px;line-height:30px;font-weight:400;color:#9293a9;letter-spacing:0.485px;-webkit-text-stroke:0.65px #9293a9;">Delayed by 70 days</span>
<span class="t" style="left:3079.30px;top:1642.50px;font-size:28.0px;line-height:34px;font-weight:400;color:#0b0b0d;letter-spacing:0.336px;">Teja</span>
<span class="t" style="left:3079.30px;top:1676.76px;font-size:20.6px;line-height:25px;font-weight:400;color:#9293a9;letter-spacing:0.426px;-webkit-text-stroke:0.55px #9293a9;">teja.kummarik...</span>
<span class="t" style="left:537.50px;top:1801.83px;font-size:24.72px;line-height:30px;font-weight:400;color:#000;letter-spacing:1.367px;-webkit-text-stroke:0.4px #000;">log4j</span>
<span class="t" style="left:577.30px;top:1853.43px;font-size:24.72px;line-height:30px;font-weight:400;color:#0b0b0d;letter-spacing:-0.525px;">CRITICAL</span>
<span class="t" style="left:977.80px;top:1828.13px;font-size:24.72px;line-height:30px;font-weight:400;color:#4f5161;letter-spacing:1.541px;-webkit-text-stroke:0.4px #4f5161;">N/A</span>
<span class="t" style="left:1261.30px;top:1828.13px;font-size:24.72px;line-height:30px;font-weight:400;color:#4f5161;letter-spacing:0.410px;-webkit-text-stroke:0.4px #4f5161;">All Versions</span>
<span class="t" style="left:1550.90px;top:1810.18px;font-size:22.0px;line-height:26px;font-weight:700;color:#3f822f;letter-spacing:-0.296px;">DONE</span>
<span class="t" style="left:1492.20px;top:1858.66px;font-size:20.6px;line-height:25px;font-weight:400;color:#6b6d83;letter-spacing:0.343px;-webkit-text-stroke:0.3px #6b6d83;">manually by Teja...</span>
<span class="t" style="left:1797.20px;top:1827.93px;font-size:24.72px;line-height:30px;font-weight:400;color:#000;-webkit-text-stroke:0.4px #000;">0</span>
<span class="t" style="left:1935.50px;top:1806.43px;font-size:24.0px;line-height:29px;font-weight:700;color:#000;letter-spacing:0.119px;">Pending:</span>
<span class="t" style="left:1935.50px;top:1849.93px;font-size:24.0px;line-height:29px;font-weight:700;color:#000;letter-spacing:0.146px;">Remediated:</span>
<span class="t" style="left:2388.50px;top:1809.58px;font-size:24.72px;line-height:30px;font-weight:400;color:#000;letter-spacing:0.654px;-webkit-text-stroke:0.4px #000;">Apr 30, 2024</span>
<span class="t" style="left:2388.50px;top:1845.28px;font-size:24.72px;line-height:30px;font-weight:400;color:#9293a9;letter-spacing:0.393px;-webkit-text-stroke:0.65px #9293a9;">Teja Kummarikuntla</span>
<span class="t" style="left:2697.20px;top:1827.93px;font-size:24.72px;line-height:30px;font-weight:400;color:#0b0b0d;letter-spacing:1.341px;-webkit-text-stroke:0.4px #0b0b0d;">N/A</span>
<span class="t" style="left:3078.30px;top:1814.50px;font-size:28.0px;line-height:34px;font-weight:400;color:#0b0b0d;letter-spacing:3.324px;">dfd</span>
<span class="t" style="left:3079.30px;top:1848.76px;font-size:20.6px;line-height:25px;font-weight:400;color:#9293a9;letter-spacing:1.113px;-webkit-text-stroke:0.55px #9293a9;">dfd</span>
<span class="t" style="left:537.50px;top:1977.43px;font-size:24.72px;line-height:30px;font-weight:400;color:#000;letter-spacing:1.381px;-webkit-text-stroke:0.4px #000;">log4j-api</span>
<span class="t" style="left:3077.30px;top:1971.90px;font-size:28.0px;line-height:34px;font-weight:400;color:#0b0b0d;letter-spacing:1.123px;">Harness</span>
<span class="t" style="left:3079.30px;top:2007.90px;font-size:28.0px;line-height:34px;font-weight:400;color:#0b0b0d;letter-spacing:1.104px;">Automation</span>
<span class="t" style="left:67.00px;top:1910.38px;font-size:22.0px;line-height:26px;font-weight:700;color:#fff;">L</span>
<span class="t" style="left:3030.39px;top:765.37px;font-size:20.0px;line-height:24px;font-weight:700;color:#fff;">LB</span>
<span class="t" style="left:3037.50px;top:1309.37px;font-size:20.0px;line-height:24px;font-weight:700;color:#fff;">L</span>
<span class="t" style="left:3038.00px;top:1653.37px;font-size:20.0px;line-height:24px;font-weight:700;color:#fff;">T</span>
<span class="t" style="left:3036.50px;top:1825.37px;font-size:20.0px;line-height:24px;font-weight:700;color:#fff;">D</span>
<svg style="left:0px;top:0px" width="480" height="1986" viewBox="0 0 480 1986" ><defs><linearGradient id="shg" gradientUnits="userSpaceOnUse" x1="40" y1="98" x2="95" y2="42"><stop offset="0" stop-color="#f0917a"/><stop offset="0.5" stop-color="#e87859"/><stop offset="1" stop-color="#e2603e"/></linearGradient></defs><path d="M33 42.5 Q33 40 35.5 40 L92.7 40 Q95.2 40 95.2 42.5 L95.2 50 C95.2 68 88 90 64.3 103.6 C40.4 90 33 68 33 50 Z" fill="url(#shg)"/><path d="M33.5 60.2 L50 64.6 L70.8 52.9 M50 64.6 L68.3 82.7" fill="none" stroke="#0d1a2e" stroke-width="5" stroke-linecap="round" stroke-linejoin="round"/><circle cx="70.8" cy="52.9" r="6.4" fill="url(#shg)" stroke="#0d1a2e" stroke-width="5"/><circle cx="50" cy="64.6" r="6.0" fill="url(#shg)" stroke="#0d1a2e" stroke-width="5"/><circle cx="68.3" cy="82.7" r="7.0" fill="url(#shg)" stroke="#0d1a2e" stroke-width="5"/><circle cx="382" cy="61.3" r="3.9" fill="#6d6f88"/><circle cx="382" cy="72.8" r="3.9" fill="#6d6f88"/><circle cx="382" cy="84.2" r="3.9" fill="#6d6f88"/><circle cx="393.7" cy="61.3" r="3.9" fill="#6d6f88"/><circle cx="393.7" cy="72.8" r="3.9" fill="#6d6f88"/><circle cx="393.7" cy="84.2" r="3.9" fill="#6d6f88"/><circle cx="405.3" cy="61.3" r="3.9" fill="#6d6f88"/><circle cx="405.3" cy="72.8" r="3.9" fill="#6d6f88"/><circle cx="405.3" cy="84.2" r="3.9" fill="#6d6f88"/><path d="M70 185.5 L79 190.3 L79 200.3 L70 205 L61 200.3 L61 190.3 Z M61 190.3 L70 195.3 L79 190.3 M70 195.3 L70 205 M65.5 187.9 L74.5 192.8 M64 196 L67 197.6" fill="none" stroke="#7a7c96" stroke-width="1.6" stroke-linecap="round" stroke-linejoin="round"/><path d="M391.8 206.5 L400.3 215 L391.8 223.5" fill="none" stroke="#7f819c" stroke-width="3.6" stroke-linecap="round" stroke-linejoin="round"/><path d="M50.5 342 L68 324.8 L85.5 342 L79.3 342 L79.3 355.5 L56.7 355.5 L56.7 342 Z" fill="none" stroke="#6d6f88" stroke-width="2.7" stroke-linecap="round" stroke-linejoin="round"/><rect x="63.3" y="341.5" width="9.4" height="9.4" rx="0" fill="none" stroke="#6d6f88" stroke-width="2.7" stroke-linejoin="round" /><ellipse cx="67.7" cy="494" rx="14.5" ry="3.8" fill="none" stroke="#6d6f88" stroke-width="2"/><path d="M53.2 494 L56.6 515.2 Q57.2 519.3 67.7 519.5 Q78.2 519.3 78.8 515.2 L82.2 494" fill="none" stroke="#6d6f88" stroke-width="2" stroke-linecap="round" stroke-linejoin="round"/><path d="M63.3 501.6 L59 506.3 L63.3 511 M69.3 500.2 L66.3 512.4 M72.3 501.6 L76.6 506.3 L72.3 511" fill="none" stroke="#6d6f88" stroke-width="2" stroke-linecap="round" stroke-linejoin="round"/><path d="M68 572.3 L82.4 580.2 L82.4 596 L68 603.8 L53.6 596 L53.6 580.2 Z M53.6 580.2 L68 588.2 L82.4 580.2 M68 588.2 L68 603.8 M60.8 576.2 L75.2 584.2" fill="none" stroke="#6d6f88" stroke-width="1.6" stroke-linecap="round" stroke-linejoin="round"/><path d="M68 672 C64 666.2 61.3 664.6 58.2 664.6 C53.7 664.6 50.6 668 50.6 672 C50.6 676 53.7 679.4 58.2 679.4 C61.3 679.4 64 677.8 68 672 C72 666.2 74.7 664.6 77.8 664.6 C82.3 664.6 85.4 668 85.4 672 C85.4 676 82.3 679.4 77.8 679.4 C74.7 679.4 72 677.8 68 672 Z" fill="none" stroke="#6d6f88" stroke-width="2.6" stroke-linecap="round" stroke-linejoin="round"/><path d="M78.1 836.6 L78.1 828 L69.7 819.8 L52.9 819.8 L52.9 851.3 L78.1 851.3 M69.7 819.8 L69.7 828 L78.1 828" fill="none" stroke="#6d6f88" stroke-width="1.7" stroke-linecap="butt" stroke-linejoin="miter"/><path d="M56.1 828 L66.6 828 M56.1 832.4 L74.8 832.4 M56.1 836.8 L70.3 836.8 M56.1 841 L66.6 841 M56.1 845 L66.6 845" fill="none" stroke="#6d6f88" stroke-width="1.7" stroke-linejoin="round" stroke-linecap="butt"/><circle cx="74" cy="842.9" r="4.7" fill="#0d1a2e" stroke="#6d6f88" stroke-width="1.6"/><path d="M77.4 846.4 L82.8 851.5" fill="none" stroke="#6d6f88" stroke-width="1.7" stroke-linecap="round" stroke-linejoin="round"/><path d="M60.5 906.5 L53 906.5 L53 938.3 L83.2 938.3 L83.2 906.5 L75.7 906.5" fill="none" stroke="#6d6f88" stroke-width="3.2" stroke-linejoin="round" stroke-linecap="butt"/><rect x="61.5" y="901.5" width="13.2" height="8.4" rx="0" fill="none" stroke="#6d6f88" stroke-width="3" stroke-linejoin="round" /><path d="M61.5 924.2 L66.6 929.4 L76.3 919" fill="none" stroke="#6d6f88" stroke-width="3.4" stroke-linecap="round" stroke-linejoin="round"/><path d="M81.4 1003.5 L81.4 996 L67.4 987.8 L53.2 996 L53.2 1012.6 L66.5 1020.3 M53.2 996 L67.4 1004.2 L81.4 996 M67.4 987.8 L67.4 1004.2 L67.4 1011" fill="none" stroke="#68c4f1" stroke-width="2.7" stroke-linecap="round" stroke-linejoin="round"/><g transform="translate(76.3 1014.4) rotate(-42)"><rect x="-8.1" y="-3.4" width="16.2" height="6.8" rx="3.4" fill="#1f2c4a" stroke="#68c4f1" stroke-width="2.5"/><circle cx="-1.3" cy="0" r="0.9" fill="#68c4f1"/><circle cx="1.6" cy="0" r="0.9" fill="#68c4f1"/></g><path d="M60 1164.6 L64.8 1169.4 L60 1174.2 L55.2 1169.4 Z" fill="none" stroke="#6d6f88" stroke-width="1.6" stroke-linecap="round" stroke-linejoin="round"/><path d="M68.3 1164.6 Q72 1159.6 77.4 1155.8 M73.8 1155.6 L77.7 1155.5 L77.6 1159.4 M68.6 1169.4 L82 1169.4 M79.4 1166.6 L82.3 1169.4 L79.4 1172.2 M68.3 1174.2 Q72 1179.2 77.4 1183 M73.8 1183.2 L77.7 1183.3 L77.6 1179.4" fill="none" stroke="#6d6f88" stroke-width="1.5" stroke-linecap="round" stroke-linejoin="round"/><rect x="51.4" y="1242.2" width="13" height="6.4" rx="1.4" fill="none" stroke="#6d6f88" stroke-width="2.3" stroke-linejoin="round" /><rect x="71.5" y="1242.2" width="13.4" height="6.4" rx="1.4" fill="none" stroke="#6d6f88" stroke-width="2.3" stroke-linejoin="round" /><rect x="71.5" y="1255.3" width="13.4" height="6.4" rx="1.4" fill="none" stroke="#6d6f88" stroke-width="2.3" stroke-linejoin="round" /><path d="M64.6 1245.4 L71.4 1245.4 M58.3 1249 L58.3 1254.4 Q58.3 1258.5 62.4 1258.5 L71.4 1258.5" fill="none" stroke="#6d6f88" stroke-width="2.3" stroke-linecap="round" stroke-linejoin="round"/><path d="M83.51 1408.92 L83.51 1412.28 L79.38 1412.86 L77.65 1417.04 L80.16 1420.38 L77.78 1422.76 L74.44 1420.25 L70.26 1421.98 L69.68 1426.11 L66.32 1426.11 L65.74 1421.98 L61.56 1420.25 L58.22 1422.76 L55.84 1420.38 L58.35 1417.04 L56.62 1412.86 L52.49 1412.28 L52.49 1408.92 L56.62 1408.34 L58.35 1404.16 L55.84 1400.82 L58.22 1398.44 L61.56 1400.95 L65.74 1399.22 L66.32 1395.09 L69.68 1395.09 L70.26 1399.22 L74.44 1400.95 L77.78 1398.44 L80.16 1400.82 L77.65 1404.16 L79.38 1408.34 Z" fill="none" stroke="#6d6f88" stroke-width="3" stroke-linecap="round" stroke-linejoin="round"/><circle cx="68" cy="1410.6" r="5.8" fill="none" stroke="#6d6f88" stroke-width="3"/><path d="M390.6 1403 L399 1411.4 L390.6 1419.8" fill="none" stroke="#a2a4ba" stroke-width="2.3" stroke-linecap="round" stroke-linejoin="round"/><path d="M61.6 1557.3 L50.8 1562.9 L57.4 1566.3" fill="none" stroke="#6d6f88" stroke-width="1.9" stroke-linecap="round" stroke-linejoin="round"/><path d="M50.6 1569.7 L58.5 1565.6 L66.5 1569.8 L83 1569.8 L66.5 1579.6 Z" fill="#6d6f88" stroke="#6d6f88" stroke-width="1.0" stroke-linecap="round" stroke-linejoin="round"/><path d="M50.6 1569.7 L61 1564.2 L77 1572.5 L83 1569.4 L66.5 1579.6 Z" fill="#6d6f88"/><path d="M50.8 1576 L66.5 1586 L82.8 1576" fill="none" stroke="#6d6f88" stroke-width="1.9" stroke-linecap="round" stroke-linejoin="round"/><path d="M72.43 1552.11 L76.17 1552.11 L76.42 1554.37 L78.29 1555.45 L80.37 1554.54 L82.24 1557.77 L80.41 1559.12 L80.41 1561.28 L82.24 1562.63 L80.37 1565.86 L78.29 1564.95 L76.42 1566.03 L76.17 1568.29 L72.43 1568.29 L72.18 1566.03 L70.31 1564.95 L68.23 1565.86 L66.36 1562.63 L68.19 1561.28 L68.19 1559.12 L66.36 1557.77 L68.23 1554.54 L70.31 1555.45 L72.18 1554.37 Z" fill="#0d1a2e" stroke="#6d6f88" stroke-width="1.7" stroke-linecap="round" stroke-linejoin="round"/><circle cx="74.3" cy="1560.2" r="2.9" fill="none" stroke="#6d6f88" stroke-width="1.7"/><path d="M61.6 1641 L54.4 1641 L54.4 1650.1 L63 1650.1 M59.2 1650.1 L59.2 1655.4 M53 1655.4 L78 1655.4 M56.8 1655.4 L56.8 1659.6 M74.6 1655.4 L74.6 1659.6" fill="none" stroke="#6d6f88" stroke-width="2.0" stroke-linecap="butt" stroke-linejoin="miter"/><rect x="51.6" y="1660.6" width="10.4" height="8.8" rx="0" fill="none" stroke="#6d6f88" stroke-width="2.0" stroke-linejoin="round" /><rect x="69.2" y="1660.6" width="10.4" height="8.8" rx="0" fill="none" stroke="#6d6f88" stroke-width="2.0" stroke-linejoin="round" /><path d="M72.43 1636.01 L76.17 1636.01 L76.42 1638.27 L78.29 1639.35 L80.37 1638.44 L82.24 1641.67 L80.41 1643.02 L80.41 1645.18 L82.24 1646.53 L80.37 1649.76 L78.29 1648.85 L76.42 1649.93 L76.17 1652.19 L72.43 1652.19 L72.18 1649.93 L70.31 1648.85 L68.23 1649.76 L66.36 1646.53 L68.19 1645.18 L68.19 1643.02 L66.36 1641.67 L68.23 1638.44 L70.31 1639.35 L72.18 1638.27 Z" fill="#0d1a2e" stroke="#6d6f88" stroke-width="1.7" stroke-linecap="round" stroke-linejoin="round"/><circle cx="74.3" cy="1644.1" r="2.9" fill="none" stroke="#6d6f88" stroke-width="1.7"/><circle cx="400" cy="1569" r="13" fill="none" stroke="#6d6f88" stroke-width="2"/><circle cx="400" cy="1563.4" r="1.6" fill="#8183a0"/><path d="M400 1567.6 L400 1575.4" fill="none" stroke="#8183a0" stroke-width="2.4" stroke-linecap="round" stroke-linejoin="round"/><circle cx="400" cy="1653" r="13" fill="none" stroke="#6d6f88" stroke-width="2"/><circle cx="400" cy="1647.4" r="1.6" fill="#8183a0"/><path d="M400 1651.6 L400 1659.4" fill="none" stroke="#8183a0" stroke-width="2.4" stroke-linecap="round" stroke-linejoin="round"/><path d="M83.2 1807.6 L84.8 1807.6 Q87.3 1807.6 87.3 1810.1 L87.3 1825.8 L85.6 1825.8 L85.6 1829.6 L81.2 1825.8 L64.6 1825.8 Q62.4 1825.8 62.4 1823.6 L62.4 1821.6" fill="none" stroke="#6d6f88" stroke-width="2.4" stroke-linecap="round" stroke-linejoin="round"/><path d="M56 1798 L77.2 1798 Q80.4 1798 80.4 1801.2 L80.4 1815.4 Q80.4 1818.6 77.2 1818.6 L61.8 1818.6 L56.6 1823.2 L56.6 1818.6 L56 1818.6 Q52.8 1818.6 52.8 1815.4 L52.8 1801.2 Q52.8 1798 56 1798 Z" fill="#6d6f88"/><path d="M464 1775.5 L442.5 1803 Q440 1806.5 440 1811 L440 1849 Q440 1853.5 442.5 1857 L464 1884.8 Z" fill="#b0b1c4"/><path d="M444.2 1830.1 L457.4 1823.6 L457.4 1836.7 Z" fill="#0d1a2e"/></svg>
<svg style="left:464px;top:0px" width="2904" height="1986" viewBox="464 0 2904 1986" ><path d="M843 39.3 L850.3 46 L843 52.7" fill="none" stroke="#5d6875" stroke-width="2.8" stroke-linecap="butt" stroke-linejoin="miter"/><path d="M1123.8 39.3 L1131.1 46 L1123.8 52.7" fill="none" stroke="#5d6875" stroke-width="2.8" stroke-linecap="butt" stroke-linejoin="miter"/><path d="M586.9 254.45 A21.75 21.75 0 1 1 571.52 260.82" fill="none" stroke="#3476ce" stroke-width="4.4" stroke-linecap="butt"/><path d="M586.9 252.3 L586.9 264.8" fill="none" stroke="#3476ce" stroke-width="4.2" stroke-linejoin="round" stroke-linecap="butt"/><path d="M586.9 276.2 L576.3 265.3" fill="none" stroke="#3476ce" stroke-width="4.2" stroke-linejoin="round" stroke-linecap="butt"/><circle cx="586.9" cy="276.3" r="4.2" fill="#3476ce"/><circle cx="1250.9" cy="275.7" r="33.9" fill="none" stroke="#61bff0" stroke-width="3.7"/><g transform="translate(1242.9 267.9) rotate(-45)" fill="none" stroke="#61bff0" stroke-width="3.7" stroke-linejoin="round" stroke-linecap="round"><path d="M6 -12.5 A13.9 13.9 0 1 1 -6 -12.5 L-6 -4.8 A6 6 0 0 0 6 -4.8 Z"/><path d="M-5.8 12.6 L-5.8 30.1 A5.8 5.8 0 0 0 5.8 30.1 L5.8 12.6"/></g><path d="M1892.76 289.71 A34.2 34.2 0 0 1 1949.42 252.92" fill="none" stroke="#61bff0" stroke-width="3.3" stroke-linecap="butt"/><path d="M1955.24 261.89 A34.2 34.2 0 0 1 1898.58 298.68" fill="none" stroke="#61bff0" stroke-width="3.3" stroke-linecap="butt"/><path d="M1953.7 255.9 L1953.7 243.6 L1941.2 255.9 Z" fill="#61bff0" stroke="#61bff0" stroke-width="0.8" stroke-linecap="round" stroke-linejoin="round"/><path d="M1894.5 296.2 L1894.5 308.3 L1906.9 296.2 Z" fill="#61bff0" stroke="#61bff0" stroke-width="0.8" stroke-linecap="round" stroke-linejoin="round"/><path d="M1911.4 260 L1936.6 260 M1911.4 292 L1936.6 292" fill="none" stroke="#61bff0" stroke-width="3.6" stroke-linejoin="round" stroke-linecap="butt"/><path d="M1914.2 260 L1914.2 263.5 C1914.2 270.5 1920 273.3 1924 275.9 C1920 278.5 1914.2 281.3 1914.2 288.3 L1914.2 292 M1933.8 260 L1933.8 263.5 C1933.8 270.5 1928 273.3 1924 275.9 C1928 278.5 1933.8 281.3 1933.8 288.3 L1933.8 292" fill="none" stroke="#61bff0" stroke-width="3.3" stroke-linecap="round" stroke-linejoin="round"/><path d="M811 432.6 L818.2 440 L825.4 432.6" fill="none" stroke="#8e90a8" stroke-width="2.6" stroke-linecap="round" stroke-linejoin="round"/><path d="M1166.4 432.6 L1173.6000000000001 440 L1180.8000000000002 432.6" fill="none" stroke="#8e90a8" stroke-width="2.6" stroke-linecap="round" stroke-linejoin="round"/><path d="M887 645 L893.9 650.7 L893.9 652.2 L880.1 652.2 L880.1 650.7 Z M880.1 657.6 L893.9 657.6 L893.9 659.1 L887 664.9 L880.1 659.1 Z" fill="#6b6d83" stroke="#6b6d83" stroke-width="1.6" stroke-linecap="round" stroke-linejoin="round"/><path d="M1055.9 645 L1062.8000000000002 650.7 L1062.8000000000002 652.2 L1049.0 652.2 L1049.0 650.7 Z M1049.0 657.6 L1062.8000000000002 657.6 L1062.8000000000002 659.1 L1055.9 664.9 L1049.0 659.1 Z" fill="#6b6d83" stroke="#6b6d83" stroke-width="1.6" stroke-linecap="round" stroke-linejoin="round"/><path d="M1446.5 645 L1453.4 650.7 L1453.4 652.2 L1439.6 652.2 L1439.6 650.7 Z M1439.6 657.6 L1453.4 657.6 L1453.4 659.1 L1446.5 664.9 L1439.6 659.1 Z" fill="#6b6d83" stroke="#6b6d83" stroke-width="1.6" stroke-linecap="round" stroke-linejoin="round"/><path d="M1678.3 645 L1685.2 650.7 L1685.2 652.2 L1671.3999999999999 652.2 L1671.3999999999999 650.7 Z M1671.3999999999999 657.6 L1685.2 657.6 L1685.2 659.1 L1678.3 664.9 L1671.3999999999999 659.1 Z" fill="#6b6d83" stroke="#6b6d83" stroke-width="1.6" stroke-linecap="round" stroke-linejoin="round"/><path d="M1900.9 645 L1907.8000000000002 650.7 L1907.8000000000002 652.2 L1894.0 652.2 L1894.0 650.7 Z M1894.0 657.6 L1907.8000000000002 657.6 L1907.8000000000002 659.1 L1900.9 664.9 L1894.0 659.1 Z" fill="#6b6d83" stroke="#6b6d83" stroke-width="1.6" stroke-linecap="round" stroke-linejoin="round"/><path d="M2137 645 L2143.9 650.7 L2143.9 652.2 L2130.1 652.2 L2130.1 650.7 Z M2130.1 657.6 L2143.9 657.6 L2143.9 659.1 L2137 664.9 L2130.1 659.1 Z" fill="#6b6d83" stroke="#6b6d83" stroke-width="1.6" stroke-linecap="round" stroke-linejoin="round"/><path d="M2602.9 645 L2609.8 650.7 L2609.8 652.2 L2596.0 652.2 L2596.0 650.7 Z M2596.0 657.6 L2609.8 657.6 L2609.8 659.1 L2602.9 664.9 L2596.0 659.1 Z" fill="#6b6d83" stroke="#6b6d83" stroke-width="1.6" stroke-linecap="round" stroke-linejoin="round"/><path d="M2885 645 L2891.9 650.7 L2891.9 652.2 L2878.1 652.2 L2878.1 650.7 Z M2878.1 657.6 L2891.9 657.6 L2891.9 659.1 L2885 664.9 L2878.1 659.1 Z" fill="#6b6d83" stroke="#6b6d83" stroke-width="1.6" stroke-linecap="round" stroke-linejoin="round"/><path d="M3154 645 L3160.9 650.7 L3160.9 652.2 L3147.1 652.2 L3147.1 650.7 Z M3147.1 657.6 L3160.9 657.6 L3160.9 659.1 L3154 664.9 L3147.1 659.1 Z" fill="#6b6d83" stroke="#6b6d83" stroke-width="1.6" stroke-linecap="round" stroke-linejoin="round"/><path d="M554 816.7 L565.6 836.7 L542.4 836.7 Z" fill="#c93b2c" stroke="#c93b2c" stroke-width="2.4" stroke-linecap="round" stroke-linejoin="round"/><path d="M554 823.4 L554 830.1" fill="none" stroke="#fff" stroke-width="2.8" stroke-linejoin="round" stroke-linecap="butt"/><circle cx="554" cy="833.9" r="1.6" fill="#fff"/><path d="M554 998.7 L565.6 1018.7 L542.4 1018.7 Z" fill="#c93b2c" stroke="#c93b2c" stroke-width="2.4" stroke-linecap="round" stroke-linejoin="round"/><path d="M554 1005.4 L554 1012.1" fill="none" stroke="#fff" stroke-width="2.8" stroke-linejoin="round" stroke-linecap="butt"/><circle cx="554" cy="1015.9" r="1.6" fill="#fff"/><path d="M554 1170.6999999999998 L565.6 1190.6999999999998 L542.4 1190.6999999999998 Z" fill="#c93b2c" stroke="#c93b2c" stroke-width="2.4" stroke-linecap="round" stroke-linejoin="round"/><path d="M554 1177.3999999999999 L554 1184.1" fill="none" stroke="#fff" stroke-width="2.8" stroke-linejoin="round" stroke-linecap="butt"/><circle cx="554" cy="1187.8999999999999" r="1.6" fill="#fff"/><path d="M554 1342.6999999999998 L565.6 1362.6999999999998 L542.4 1362.6999999999998 Z" fill="#c93b2c" stroke="#c93b2c" stroke-width="2.4" stroke-linecap="round" stroke-linejoin="round"/><path d="M554 1349.3999999999999 L554 1356.1" fill="none" stroke="#fff" stroke-width="2.8" stroke-linejoin="round" stroke-linecap="butt"/><circle cx="554" cy="1359.8999999999999" r="1.6" fill="#fff"/><path d="M554 1514.6999999999998 L565.6 1534.6999999999998 L542.4 1534.6999999999998 Z" fill="#c93b2c" stroke="#c93b2c" stroke-width="2.4" stroke-linecap="round" stroke-linejoin="round"/><path d="M554 1521.3999999999999 L554 1528.1" fill="none" stroke="#fff" stroke-width="2.8" stroke-linejoin="round" stroke-linecap="butt"/><circle cx="554" cy="1531.8999999999999" r="1.6" fill="#fff"/><path d="M554 1686.6999999999998 L565.6 1706.6999999999998 L542.4 1706.6999999999998 Z" fill="#c93b2c" stroke="#c93b2c" stroke-width="2.4" stroke-linecap="round" stroke-linejoin="round"/><path d="M554 1693.3999999999999 L554 1700.1" fill="none" stroke="#fff" stroke-width="2.8" stroke-linejoin="round" stroke-linecap="butt"/><circle cx="554" cy="1703.8999999999999" r="1.6" fill="#fff"/><path d="M554 1858.6999999999998 L565.6 1878.6999999999998 L542.4 1878.6999999999998 Z" fill="#c93b2c" stroke="#c93b2c" stroke-width="2.4" stroke-linecap="round" stroke-linejoin="round"/><path d="M554 1865.3999999999999 L554 1872.1" fill="none" stroke="#fff" stroke-width="2.8" stroke-linejoin="round" stroke-linecap="butt"/><circle cx="554" cy="1875.8999999999999" r="1.6" fill="#fff"/><circle cx="3044" cy="983.0" r="20" fill="#4f5161"/><circle cx="3043.9" cy="977.6" r="4.0" fill="none" stroke="#fff" stroke-width="1.3"/><path d="M3043.9 981.9 L3051.6 992.1 L3036.2 992.1 Z" fill="none" stroke="#fff" stroke-width="1.3" stroke-linecap="round" stroke-linejoin="miter"/><circle cx="3044" cy="1155.0" r="20" fill="#4f5161"/><circle cx="3043.9" cy="1149.6" r="4.0" fill="none" stroke="#fff" stroke-width="1.3"/><path d="M3043.9 1153.9 L3051.6 1164.1 L3036.2 1164.1 Z" fill="none" stroke="#fff" stroke-width="1.3" stroke-linecap="round" stroke-linejoin="miter"/><circle cx="3044" cy="1499.0" r="20" fill="#4f5161"/><circle cx="3043.9" cy="1493.6" r="4.0" fill="none" stroke="#fff" stroke-width="1.3"/><path d="M3043.9 1497.9 L3051.6 1508.1 L3036.2 1508.1 Z" fill="none" stroke="#fff" stroke-width="1.3" stroke-linecap="round" stroke-linejoin="miter"/><circle cx="3274" cy="789.0" r="4.3" fill="#b0b1c4"/><circle cx="3274" cy="801.0" r="4.3" fill="#b0b1c4"/><circle cx="3274" cy="813.0" r="4.3" fill="#b0b1c4"/><circle cx="3274" cy="971.0" r="4.3" fill="#b0b1c4"/><circle cx="3274" cy="983.0" r="4.3" fill="#b0b1c4"/><circle cx="3274" cy="995.0" r="4.3" fill="#b0b1c4"/><circle cx="3274" cy="1143.0" r="4.3" fill="#b0b1c4"/><circle cx="3274" cy="1155.0" r="4.3" fill="#b0b1c4"/><circle cx="3274" cy="1167.0" r="4.3" fill="#b0b1c4"/><circle cx="3274" cy="1315.0" r="4.3" fill="#b0b1c4"/><circle cx="3274" cy="1327.0" r="4.3" fill="#b0b1c4"/><circle cx="3274" cy="1339.0" r="4.3" fill="#b0b1c4"/><circle cx="3274" cy="1487.0" r="4.3" fill="#b0b1c4"/><circle cx="3274" cy="1499.0" r="4.3" fill="#b0b1c4"/><circle cx="3274" cy="1511.0" r="4.3" fill="#b0b1c4"/><circle cx="3274" cy="1659.0" r="4.3" fill="#b0b1c4"/><circle cx="3274" cy="1671.0" r="4.3" fill="#b0b1c4"/><circle cx="3274" cy="1683.0" r="4.3" fill="#b0b1c4"/><circle cx="3274" cy="1831.0" r="4.3" fill="#b0b1c4"/><circle cx="3274" cy="1843.0" r="4.3" fill="#b0b1c4"/><circle cx="3274" cy="1855.0" r="4.3" fill="#b0b1c4"/></svg>
<div style="left:494px;top:702px;width:2838px;height:204px;border:5px solid #ea3323;"></div>
<span class="t" style="left:61.40px;top:1798.31px;font-size:17.0px;line-height:20px;font-weight:700;color:#0d1a2e;">?</span>
<svg style="left:3368px;top:1860px" width="88" height="80" viewBox="3368 1860 88 80" ><path d="M3397.6 1888.6 A14 14 0 1 1 3421.6 1902.6 L3424.4 1908.6 L3415.2 1907.2 Q3413 1908 3411 1908.2" fill="none" stroke="#62647b" stroke-width="3.2" stroke-linecap="round" stroke-linejoin="round"/><path d="M3392.4 1912.6 A9.4 9.4 0 1 1 3396.6 1915 L3390 1916.2 Z" fill="none" stroke="#62647b" stroke-width="3.2" stroke-linecap="round" stroke-linejoin="round"/></svg>
<div style="left:0px;top:0px;width:3456px;height:2px;background:#444645;"></div>
</div></body></html>
